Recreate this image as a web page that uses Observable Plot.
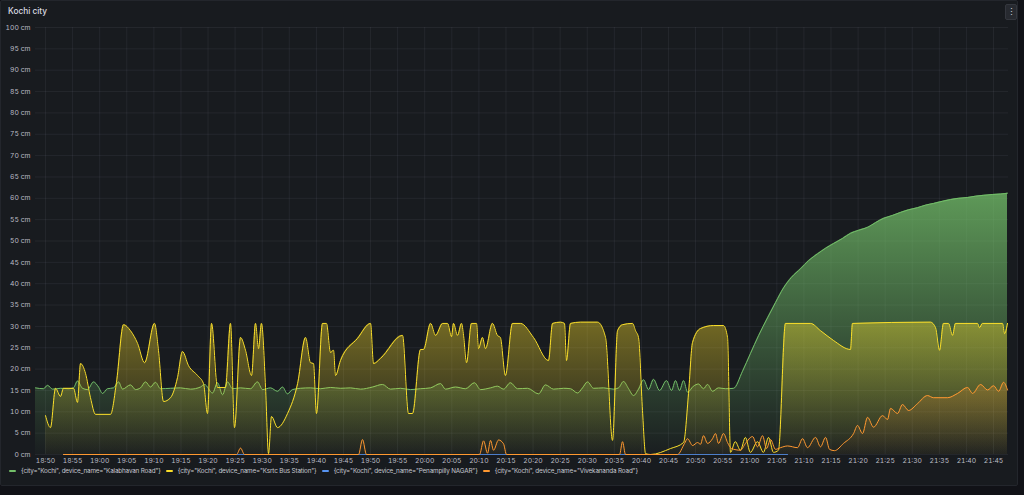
<!DOCTYPE html>
<html><head><meta charset="utf-8">
<script src="https://cdn.jsdelivr.net/npm/d3@7"></script>
<script src="https://cdn.jsdelivr.net/npm/@observablehq/plot@0.6"></script>
<style>
html,body{margin:0;padding:0;background:#111217;width:1024px;height:495px;overflow:hidden;font-family:Inter,sans-serif;}
#panel{position:absolute;left:0;top:0;width:1016px;height:484px;background:#181b1f;border:1px solid #23262c;border-radius:2px;}
#title{position:absolute;left:8px;top:6px;font-size:8.3px;font-weight:500;color:#d8d9e0;}
#menu{position:absolute;left:1005px;top:4px;width:10px;height:14px;background:#272a30;border:1px solid #34373e;border-radius:2px;color:#ccccdc;font-size:9px;line-height:14px;text-align:center;}
#chart{position:absolute;left:0;top:20px;}
#legend{position:absolute;left:9px;top:467px;display:flex;gap:5px;font-size:6.3px;letter-spacing:-0.15px;color:#c7c8d0;white-space:nowrap;}
.item{display:flex;align-items:center;}
.sw{width:7px;height:2.5px;border-radius:1px;margin-right:5px;}
</style></head>
<body>
<div id="panel"></div>
<div id="title">Kochi city</div>
<div id="menu">⋮</div>
<div id="chart"></div>
<div id="legend"></div>
<script>
// ---- data ----
const seriesNames = [
  '{city="Kochi", device_name="Kalabhavan Road"}',
  '{city="Kochi", device_name="Ksrtc Bus Station"}',
  '{city="Kochi", device_name="Penampilly NAGAR"}',
  '{city="Kochi", device_name="Vivekananda Road"}'
];
const seriesColors = ["#73BF69", "#FADE2A", "#5794F2", "#FF9830"];
const timeDomain = ["18:48:09", "21:47:46"];
const timeTicks = ["18:50","18:55","19:00","19:05","19:10","19:15","19:20","19:25","19:30","19:35","19:40","19:45","19:50","19:55","20:00","20:05","20:10","20:15","20:20","20:25","20:30","20:35","20:40","20:45","20:50","20:55","21:00","21:05","21:10","21:15","21:20","21:25","21:30","21:35","21:40","21:45"];
const yTicks = [0,5,10,15,20,25,30,35,40,45,50,55,60,65,70,75,80,85,90,95,100];

const kalabhavan = [
["18:48:09",15.6],["18:49:38",15.4],["18:50:22",16.2],["18:51:18",15.3],["18:52:46",15.5],["18:54:15",15.4],["18:55:10",15.6],["18:55:54",17.2],["18:56:50",15.5],["18:57:45",15.2],["18:58:52",17.0],["18:59:47",15.8],["19:00:31",14.3],["19:01:27",15.4],["19:02:33",15.6],["19:03:29",17.0],["19:04:13",15.3],["19:05:41",16.3],["19:06:37",15.2],["19:07:32",15.6],["19:08:28",17.0],["19:09:23",15.8],["19:10:18",16.9],["19:11:14",15.4],["19:13:05",15.5],["19:14:55",15.6],["19:16:46",15.3],["19:18:37",15.8],["19:19:21",16.4],["19:20:50",14.4],["19:21:45",16.8],["19:22:41",14.0],["19:23:36",17.0],["19:24:31",15.4],["19:26:00",15.6],["19:27:50",15.4],["19:29:08",17.0],["19:30:04",15.2],["19:31:32",15.6],["19:32:50",14.8],["19:33:45",15.8],["19:34:40",14.2],["19:35:36",15.2],["19:37:04",15.5],["19:38:55",15.6],["19:40:46",15.4],["19:42:37",15.7],["19:44:28",15.5],["19:46:18",15.6],["19:48:09",15.3],["19:50:22",15.8],["19:52:13",16.4],["19:53:41",15.3],["19:55:32",15.5],["19:57:23",15.2],["19:59:14",15.4],["20:01:04",15.6],["20:02:55",16.6],["20:03:50",15.3],["20:05:41",15.8],["20:07:32",15.4],["20:09:11",16.8],["20:10:18",15.2],["20:12:09",15.6],["20:13:26",16.0],["20:14:33",15.3],["20:15:50",16.8],["20:17:08",15.4],["20:18:59",15.5],["20:21:01",14.2],["20:22:18",16.3],["20:23:47",15.3],["20:25:37",15.5],["20:26:55",15.4],["20:28:13",14.4],["20:29:08",15.6],["20:30:04",17.0],["20:31:10",15.5],["20:33:01",15.6],["20:34:51",15.3],["20:35:47",15.6],["20:36:42",17.1],["20:37:38",15.4],["20:38:33",13.8],["20:39:28",15.3],["20:40:24",17.5],["20:41:19",15.2],["20:42:14",17.6],["20:43:21",15.0],["20:44:38",17.3],["20:45:34",15.0],["20:46:18",17.3],["20:47:02",15.0],["20:47:47",17.3],["20:48:31",14.6],["20:49:37",16.0],["20:50:33",16.5],["20:51:28",15.4],["20:52:13",16.4],["20:53:08",14.8],["20:54:14",15.6],["20:55:32",15.4],["20:57:01",15.5],["20:58:40",19.5],["21:00:09",23.7],["21:01:37",27.8],["21:03:17",32.0],["21:04:46",35.6],["21:06:14",39.0],["21:07:43",41.5],["21:09:23",43.5],["21:10:51",45.4],["21:12:31",47.0],["21:14:00",48.3],["21:15:28",49.4],["21:17:08",50.6],["21:18:36",51.8],["21:20:05",52.5],["21:21:45",53.2],["21:23:13",54.3],["21:24:42",55.3],["21:26:22",56.0],["21:27:50",56.7],["21:29:19",57.3],["21:30:58",57.8],["21:32:27",58.4],["21:33:56",58.8],["21:35:35",59.3],["21:37:04",59.7],["21:38:33",60.0],["21:40:13",60.2],["21:41:41",60.5],["21:43:10",60.7],["21:44:49",60.9],["21:46:18",61.0],["21:47:35",61.2]
];

const ksrtc = [
["18:50:00",9.1],["18:50:55",6.3],["18:51:51",15.5],["18:52:46",13.6],["18:53:19",15.5],["18:55:10",15.5],["18:55:54",12.2],["18:56:28",21.3],["18:57:23",19.0],["18:58:18",13.3],["18:59:14",9.4],["19:02:00",9.4],["19:03:06",16.9],["19:04:24",30.4],["19:05:41",29.0],["19:07:00",26.0],["19:08:17",21.5],["19:10:07",30.7],["19:10:51",24.4],["19:11:47",12.4],["19:13:05",13.3],["19:14:22",18.0],["19:15:17",24.1],["19:16:24",20.8],["19:18:04",18.5],["19:19:10",16.6],["19:19:54",9.6],["19:20:39",30.7],["19:21:45",15.7],["19:23:13",15.7],["19:24:09",30.7],["19:24:53",6.3],["19:26:00",27.4],["19:26:55",24.4],["19:28:02",18.5],["19:28:46",30.7],["19:29:19",24.8],["19:29:52",30.7],["19:30:37",15.7],["19:31:10",0.2],["19:31:43",8.9],["19:32:50",6.3],["19:34:41",9.6],["19:36:32",16.6],["19:38:00",27.4],["19:38:55",21.5],["19:39:28",21.3],["19:40:01",9.6],["19:41:08",30.7],["19:41:52",30.7],["19:42:36",23.9],["19:43:10",24.4],["19:43:32",18.5],["19:44:27",22.0],["19:47:36",27.2],["19:50:00",30.7],["19:50:33",21.3],["19:51:50",22.5],["19:55:54",27.9],["19:57:00",9.6],["19:57:45",9.6],["19:59:14",24.6],["19:59:47",24.6],["20:01:05",30.7],["20:02:00",27.9],["20:03:18",30.7],["20:04:13",30.7],["20:04:57",27.6],["20:05:19",30.7],["20:06:03",27.9],["20:06:48",30.7],["20:07:10",27.9],["20:07:43",21.5],["20:08:38",30.7],["20:09:34",30.7],["20:09:56",24.8],["20:10:40",27.4],["20:11:13",24.8],["20:12:30",30.7],["20:13:25",27.9],["20:13:58",27.4],["20:14:54",18.5],["20:16:12",30.7],["20:17:41",30.7],["20:20:05",27.4],["20:22:51",22.0],["20:23:36",30.7],["20:25:04",31.0],["20:25:48",30.7],["20:26:10",22.0],["20:26:55",30.7],["20:28:46",31.0],["20:31:54",31.0],["20:33:23",27.4],["20:34:40",3.3],["20:35:36",29.0],["20:36:31",30.4],["20:38:22",30.7],["20:38:55",29.0],["20:39:28",27.4],["20:40:12",10.3],["20:40:46",0.2],["20:41:41",0.0],["20:45:23",1.4],["20:47:47",2.8],["20:48:42",14.3],["20:49:26",26.2],["20:50:55",29.5],["20:53:19",30.2],["20:55:09",30.2],["20:55:54",27.4],["20:56:27",0.5],["20:57:20",3.0],["20:58:17",1.0],["20:59:12",4.0],["21:00:07",0.5],["21:01:25",3.0],["21:02:32",0.5],["21:03:28",4.0],["21:04:23",0.5],["21:05:18",1.0],["21:06:36",30.7],["21:11:13",30.7],["21:13:04",29.0],["21:15:28",26.7],["21:18:36",24.6],["21:18:58",30.7],["21:33:22",31.0],["21:34:18",29.7],["21:35:02",24.4],["21:35:46",30.7],["21:36:42",30.7],["21:37:26",27.9],["21:37:59",30.7],["21:42:03",30.7],["21:42:25",29.7],["21:42:58",30.7],["21:46:40",30.7],["21:47:02",28.3],["21:47:35",30.7]
];

const penampilly = [["18:53:19",0],["20:00:00",0],["21:06:59",0]];

const vivekananda = [
["18:53:19",0],["19:25:16",0],["19:26:00",1.5],["19:26:44",0],["19:47:47",0],["19:48:31",3.5],["19:49:15",0],["20:10:07",0],["20:10:52",3.2],["20:11:36",0.3],["20:12:09",3.3],["20:12:42",1.0],["20:13:38",3.4],["20:14:33",2.5],["20:15:06",0],["20:35:58",0],["20:36:31",3.0],["20:37:04",0],["20:46:40",0],["20:47:58",2.6],["20:48:31",3.7],["20:49:27",2.1],["20:50:22",2.8],["20:50:55",2.4],["20:51:28",4.4],["20:52:13",2.6],["20:53:08",3.7],["20:53:41",4.9],["20:54:14",2.6],["20:55:10",4.9],["20:55:54",2.8],["20:56:38",1.4],["20:58:18",1.0],["20:59:13",2.6],["21:00:31",4.2],["21:01:26",1.8],["21:02:22",4.4],["21:03:06",1.4],["21:03:50",3.5],["21:04:46",1.2],["21:05:41",1.6],["21:06:59",2.0],["21:08:49",1.6],["21:09:45",3.7],["21:10:40",1.6],["21:12:09",4.0],["21:13:04",1.8],["21:14:00",4.0],["21:14:44",1.2],["21:15:39",0.9],["21:17:19",2.6],["21:19:10",4.9],["21:19:54",6.8],["21:20:49",4.9],["21:21:45",8.7],["21:22:51",6.4],["21:24:31",9.1],["21:25:26",8.2],["21:26:00",10.8],["21:27:17",9.6],["21:28:12",11.7],["21:29:19",10.3],["21:30:58",11.9],["21:32:49",13.8],["21:33:56",13.3],["21:36:31",13.3],["21:38:22",14.3],["21:40:13",15.7],["21:41:08",14.3],["21:42:37",16.4],["21:43:54",15.1],["21:45:01",16.1],["21:45:56",14.8],["21:46:52",16.9],["21:47:35",15.1]
];

// ---- chart ----
const T = s => new Date(`2023-03-01T${s.length === 5 ? s + ":00" : s}Z`);
const W = 1018, H = 446, mL = 35, mR = 10, mT = 7, mB = 12;
const series = [kalabhavan, ksrtc, penampilly, vivekananda];
const drawOrder = [2, 0, 1, 3];
const tickDates = timeTicks.map(T);

const marks = [
  Plot.ruleY(yTicks, {stroke: "#ccccdc", strokeOpacity: 0.07}),
  Plot.ruleX(tickDates, {stroke: "#ccccdc", strokeOpacity: 0.07})
];
drawOrder.forEach(i => {
  const rows = series[i].map(([t, v]) => ({t: T(t), v}));
  marks.push(Plot.areaY(rows, {x: "t", y: "v", fill: `url(#grad${i})`, curve: "monotone-x"}));
  marks.push(Plot.lineY(rows, {x: "t", y: "v", stroke: seriesColors[i], strokeWidth: i === 2 ? 0.8 : 1, curve: "monotone-x"}));
});

const chart = Plot.plot({
  width: W, height: H, marginLeft: mL, marginRight: mR, marginTop: mT, marginBottom: mB,
  style: {background: "transparent", color: "#b9bac3", fontFamily: "Inter", fontSize: "6.8px", overflow: "visible"},
  x: {type: "utc", domain: timeDomain.map(T), ticks: tickDates, tickFormat: d3.utcFormat("%H:%M"), tickSize: 0, tickPadding: 4, label: null},
  y: {domain: [0, 100], ticks: yTicks, tickFormat: d => `${d} cm`, tickSize: 0, tickPadding: 5, label: null},
  marks
});

const svg = d3.select(chart);
const defs = svg.insert("defs", ":first-child");
const bottom = H - mB, top80 = bottom - 0.8 * (H - mB - mT);
seriesColors.forEach((c, i) => {
  const g = defs.append("linearGradient").attr("id", `grad${i}`)
    .attr("gradientUnits", "userSpaceOnUse").attr("x1", 0).attr("x2", 0)
    .attr("y1", top80).attr("y2", bottom);
  g.append("stop").attr("offset", 0).attr("stop-color", c).attr("stop-opacity", 1);
  g.append("stop").attr("offset", 1).attr("stop-color", c).attr("stop-opacity", 0.02);
});
document.getElementById("chart").appendChild(chart);

const legend = d3.select("#legend");
seriesNames.forEach((n, i) => {
  const it = legend.append("div").attr("class", "item");
  it.append("div").attr("class", "sw").style("background", seriesColors[i]);
  it.append("span").text(n);
});
</script>
</body></html>
